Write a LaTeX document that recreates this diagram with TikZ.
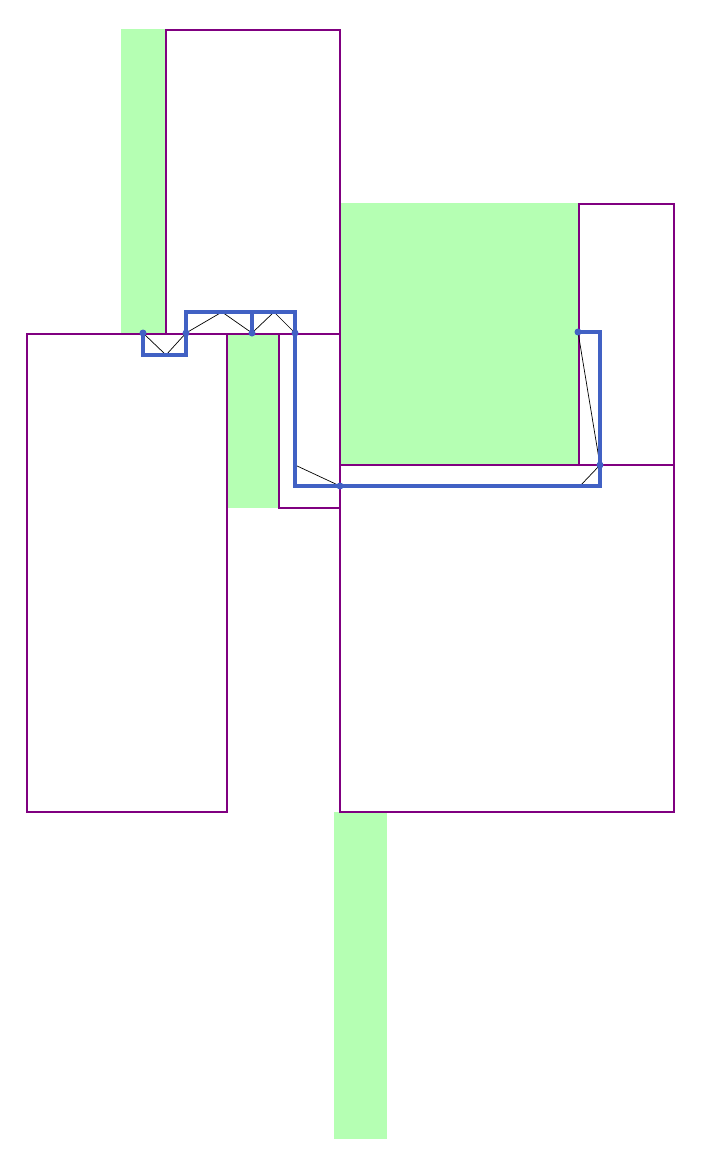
\documentclass[tikz,border=0pt]{standalone}
\definecolor{lgreen}{RGB}{181,255,179}
\definecolor{wall}{RGB}{128,0,128}
\definecolor{route}{RGB}{65,97,196}
\tikzset{
  zone/.style={fill=lgreen,draw=none},
  room/.style={draw=wall,line width=1.6pt},
  path route/.style={draw=route,line width=4pt,line join=miter},
  tri/.style={draw=black,line width=0.7pt},
  dot/.style={fill=route,draw=none},
}
\begin{document}
\begin{tikzpicture}[x=1pt,y=-1pt]
\useasboundingbox (0,0) rectangle (701,1160);
% green zones
\fill[zone] (121,29) rectangle (166,334);
\fill[zone] (228,334) rectangle (278,508);
\fill[zone] (341,203) rectangle (579,465);
\fill[zone] (334,812) rectangle (387,1139);
% rooms
\draw[room] (166,334) -- (166,30) -- (340,30) -- (340,334);
\draw[room] (27,334) rectangle (227,812);
\draw[room] (27,334) -- (340,334);
\draw[room] (279,334) -- (279,508) -- (340,508);
\draw[room] (340,334) -- (340,812);
\draw[room] (579,465) -- (579,204) -- (674,204) -- (674,465);
\draw[room] (340,465) rectangle (674,812);
% named points of the route
\coordinate (s) at (143,333);
\coordinate (e) at (578,332);
\coordinate (p1) at (186,333);
\coordinate (p2) at (252,333);
\coordinate (p3) at (295,333);
\coordinate (p4) at (340,486);
\coordinate (p5) at (600,465);
% thin triangulation lines
\draw[tri] (s) -- (166,355) -- (p1) -- (222,312) -- (p2) -- (274,312) -- (p3);
\draw[tri] (295,465) -- (p4);
\draw[tri] (e) -- (p5) -- (580,486);
% route
\draw[path route] (s) -- (143,355) -- (186,355) -- (186,312) -- (295,312) -- (295,486) -- (600,486) -- (600,332) -- (e);
\draw[path route] (252,312) -- (p2);
% dots
\foreach \p in {s,e,p1,p2,p3,p4,p5} \fill[dot] (\p) circle (3.5);
\end{tikzpicture}
\end{document}
